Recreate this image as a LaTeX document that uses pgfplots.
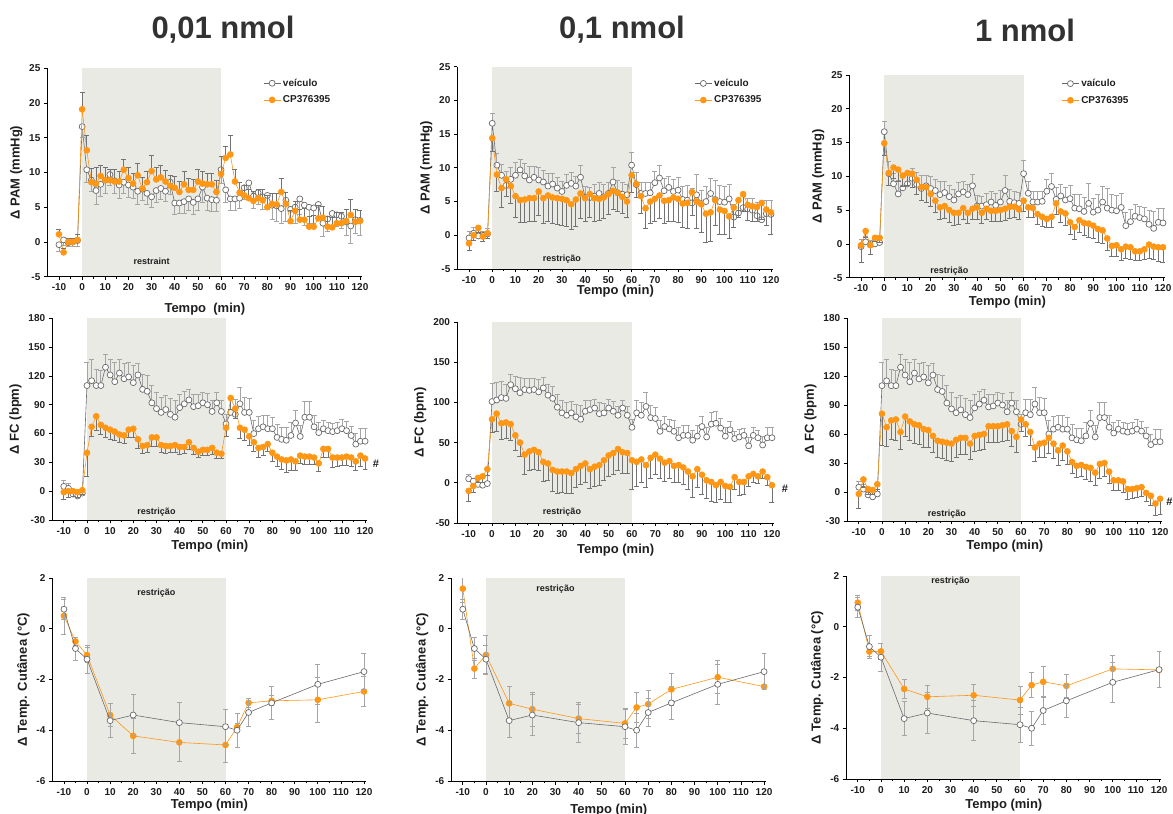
\documentclass[border=0pt]{standalone}
\usepackage{fontspec}
\setmainfont{Liberation Sans}
\usepackage{pgfplots}
\usepackage{pgfplotstable}
\pgfplotsset{compat=1.18}
\definecolor{cpo}{RGB}{255,150,20}
\definecolor{veh}{RGB}{105,105,105}
\definecolor{vebar}{RGB}{165,165,165}
\definecolor{cpbar}{RGB}{115,115,115}
\definecolor{bgshade}{RGB}{234,234,229}
\definecolor{txt}{RGB}{30,30,30}
\definecolor{ttl}{RGB}{50,50,50}

% ---------- Row 1 (PAM) ----------
\pgfplotstableread{
t v e
-10 -0.4 1.0
-8 0.3 0.8
-6 -0.1 0.6
-4 0.0 0.6
-2 0.2 0.8
0 16.6 1.5
2 10.4 1.8
4 8.9 1.6
6 7.4 2.0
8 8.3 1.8
10 8.9 1.9
12 9.7 1.5
14 8.8 1.8
16 8.2 2.0
18 8.6 1.6
20 8.2 1.8
22 7.9 1.7
24 7.3 1.9
26 7.6 1.6
28 7.0 1.6
30 6.5 1.5
32 7.4 1.7
34 7.7 1.6
36 7.3 1.5
38 8.6 1.7
40 5.6 1.6
42 5.6 1.5
44 5.8 1.7
46 6.2 1.6
48 5.7 1.8
50 6.2 1.7
52 7.9 2.2
54 6.3 1.8
56 6.1 1.7
58 6.0 1.6
60 10.4 1.9
62 7.5 1.8
64 6.2 1.6
66 6.2 1.6
68 6.3 1.5
70 7.8 1.7
72 8.5 1.9
74 6.6 1.8
76 7.1 1.7
78 6.5 1.8
80 6.7 1.9
82 5.3 2.0
84 5.2 2.2
86 4.8 2.1
88 6.0 3.0
90 4.7 2.0
92 5.0 2.3
94 6.2 2.3
96 5.3 2.9
98 5.0 2.4
100 4.9 2.3
102 5.4 2.1
104 2.7 1.9
106 3.3 1.8
108 4.1 1.7
110 3.9 1.6
112 3.7 1.7
114 2.9 2.0
116 2.3 2.5
118 3.2 2.0
120 3.1 2.1
}\vehA

\pgfplotstableread{
t v e
-10 1.1 0.7
-8 -1.5 0.6
-6 0.0 0.5
-4 0.0 0.5
-2 0.3 0.8
0 19.1 2.4
2 13.2 2.2
4 8.6 2.0
6 8.4 2.3
8 9.5 1.5
10 8.9 1.8
12 8.9 1.6
14 8.7 1.7
16 8.7 1.5
18 10.4 1.5
20 9.2 1.6
22 8.4 1.5
24 9.6 1.7
26 7.7 1.6
28 8.6 1.5
30 10.2 2.3
32 9.0 1.8
34 9.3 1.7
36 8.7 1.6
38 8.1 1.5
40 7.8 1.6
42 7.2 1.5
44 8.3 1.8
46 7.5 1.6
48 7.5 1.5
50 8.7 1.8
52 8.4 1.7
54 8.3 1.6
56 8.3 1.5
58 7.2 1.6
60 9.8 2.5
62 12.1 1.6
64 12.6 2.7
66 8.7 1.8
68 7.1 1.5
70 6.7 1.4
72 6.3 1.3
74 5.9 1.4
76 6.3 1.3
78 6.0 1.5
80 5.0 1.7
82 5.5 1.5
84 5.4 1.6
86 7.2 2.0
88 5.5 1.6
90 3.0 1.5
92 4.5 1.4
94 3.2 1.5
96 3.2 1.6
98 2.2 1.5
100 2.2 1.6
102 3.4 1.8
104 3.5 1.6
106 2.2 1.5
108 2.1 1.4
110 2.7 1.5
112 2.7 1.6
114 3.0 1.7
116 3.9 2.2
118 2.9 1.8
120 3.0 1.6
}\cpA

\pgfplotstableread{
t v e
-10 -1.2 1.0
-8 0.0 0.8
-6 1.1 0.6
-4 -0.2 0.7
-2 0.3 0.8
0 14.4 2.0
2 9.0 2.5
4 7.0 2.8
6 8.3 2.5
8 7.3 2.6
10 5.8 3.1
12 5.2 3.3
14 5.3 3.4
16 5.5 3.5
18 5.5 3.4
20 6.5 3.6
22 5.5 3.7
24 5.9 3.9
26 5.6 3.8
28 5.5 3.9
30 5.4 4.0
32 5.2 3.9
34 4.6 3.8
36 5.3 4.0
38 6.2 3.7
40 5.5 3.5
42 6.1 3.4
44 5.5 3.5
46 5.4 3.2
48 5.6 3.1
50 6.1 3.0
52 6.6 2.8
54 6.3 2.7
56 5.7 2.5
58 5.0 2.3
60 8.9 2.5
62 7.6 2.0
64 5.8 2.5
66 4.0 3.0
68 5.0 3.2
70 5.4 3.3
72 5.9 3.4
74 5.1 3.3
76 5.2 3.2
78 5.6 3.5
80 5.4 3.5
82 4.7 3.6
84 4.8 3.8
86 6.4 3.5
88 5.0 4.0
90 4.6 4.2
92 3.2 4.2
94 3.4 4.3
96 5.2 3.8
98 3.8 3.6
100 3.6 3.4
102 2.8 3.3
104 4.1 2.9
106 5.2 2.6
108 6.1 2.5
110 4.5 2.3
112 4.3 2.2
114 4.2 2.1
116 4.8 2.5
118 3.8 2.4
120 3.4 3.2
}\cpB

\pgfplotstableread{
t v e
-10 -0.2 2.5
-8 1.9 0.9
-6 -0.2 1.4
-4 0.9 0.6
-2 0.9 0.7
0 14.9 1.8
2 10.5 1.8
4 11.3 1.6
6 11.0 1.7
8 10.1 1.6
10 10.5 1.8
12 10.4 2.0
14 9.5 2.1
16 8.4 2.0
18 8.4 2.2
20 7.4 1.9
22 6.4 1.8
24 5.4 1.7
26 5.6 1.8
28 5.0 1.8
30 4.6 1.8
32 4.6 1.7
34 5.3 1.7
36 4.6 1.6
38 5.2 1.6
40 5.4 1.8
42 4.6 1.5
44 5.2 1.6
46 4.9 1.5
48 4.9 1.5
50 5.0 1.6
52 5.2 1.7
54 5.5 1.7
56 5.5 1.6
58 5.1 1.5
60 6.4 1.6
62 5.4 1.5
64 5.3 1.4
66 4.4 1.5
68 4.0 1.4
70 3.7 1.3
72 4.0 1.5
74 6.0 1.6
76 4.8 1.6
78 4.5 1.7
80 3.2 1.8
82 2.5 1.9
84 3.5 1.8
86 3.1 1.9
88 3.0 2.0
90 2.7 1.9
92 2.2 2.0
94 2.0 1.9
96 0.8 1.8
98 -0.3 1.6
100 -0.2 1.7
102 -0.8 1.6
104 -0.4 1.7
106 -0.5 1.8
108 -1.1 1.3
110 -1.1 1.4
112 -0.8 1.5
114 -0.1 2.0
116 -0.4 1.9
118 -0.5 2.1
120 -0.5 2.3
}\cpC

% ---------- Row 2 (FC) ----------
\pgfplotstableread{
t v e
-10 5 6
-8 3 5
-6 -3 4
-4 -5 3
-2 -2 3
0 110 24
2 115 22
4 110 17
6 110 16
8 129 13
10 121 16
12 114 20
14 123 14
16 117 16
18 119 15
20 113 18
22 121 12
24 106 16
26 104 17
28 92 18
30 86 17
32 82 16
34 85 15
36 80 17
38 77 18
40 87 14
42 91 13
44 95 11
46 88 13
48 89 12
50 92 11
52 90 12
54 83 12
56 92 11
58 83 12
60 70 10
62 82 14
64 80 16
66 91 17
68 82 16
70 82 15
72 60 14
74 65 13
76 67 12
78 65 14
80 65 12
82 56 14
84 54 12
86 53 13
88 58 14
90 71 13
92 57 12
94 77 16
96 77 16
98 67 12
100 61 11
102 65 9
104 63 9
106 62 9
108 63 9
110 65 10
112 63 10
114 58 9
116 49 11
118 52 13
120 52 13
}\vehB

\pgfplotstableread{
t v e
-10 5 5
-8 2 4
-6 -2 3
-4 -3 3
-2 -1 3
0 101 23
2 103 22
4 106 20
6 105 17
8 122 13
10 117 15
12 112 19
14 116 14
16 115 15
18 116 14
20 113 16
22 118 13
24 109 14
26 105 15
28 94 16
30 87 15
32 84 16
34 87 14
36 82 16
38 79 17
40 89 13
42 91 12
44 93 11
46 86 14
48 87 12
50 93 11
52 89 12
54 84 11
56 93 10
58 84 11
60 69 10
62 87 15
64 84 16
66 95 17
68 81 15
70 80 14
72 64 14
74 70 13
76 67 12
78 64 14
80 56 13
82 59 13
84 59 12
86 53 12
88 58 13
90 70 13
92 57 12
94 73 15
96 74 15
98 68 12
100 58 11
102 66 10
104 55 9
106 57 9
108 59 9
110 46 10
112 59 10
114 56 9
116 47 11
118 56 13
120 56 13
}\vehBb

\pgfplotstableread{
t v e
-10 -1 8
-8 0 6
-6 0 5
-4 -1 5
-2 1 4
0 40 25
2 67 10
4 78 15
6 69 10
8 66 10
10 64 10
12 62 9
14 59 8
16 58 8
18 64 8
20 65 9
22 54 9
24 47 8
26 48 8
28 56 9
30 56 9
32 48 8
34 47 8
36 47 7
38 48 8
40 46 8
42 46 7
44 51 7
46 45 7
48 41 6
50 43 6
52 43 6
54 45 7
56 40 6
58 39 5
60 66 9
62 97 12
64 86 10
66 66 11
68 64 11
70 57 9
72 51 10
74 45 10
76 46 9
78 49 8
80 40 9
82 36 10
84 33 10
86 32 12
88 33 11
90 31 9
92 37 8
94 36 8
96 36 8
98 35 7
100 29 8
102 44 9
104 44 9
106 35 10
108 35 9
110 35 8
112 36 9
114 35 9
116 31 9
118 37 11
120 34 11
}\cpD

\pgfplotstableread{
t v e
-10 -10 13
-8 -4 8
-6 6 6
-4 8 7
-2 17 8
0 79 16
2 86 22
4 74 20
6 75 20
8 73 20
10 59 19
12 50 17
14 35 25
16 39 24
18 41 24
20 38 22
22 26 24
24 24 21
26 16 27
28 14 27
30 14 26
32 14 27
34 12 25
36 17 23
38 21 23
40 24 23
42 17 24
44 20 25
46 22 25
48 28 25
50 34 26
52 37 27
54 42 27
56 38 26
58 37 25
60 28 36
62 26 30
64 29 28
66 22 28
68 31 26
70 35 25
72 30 24
74 25 23
76 27 22
78 21 21
80 22 22
82 19 21
84 14 22
86 8 26
88 17 23
90 10 24
92 3 23
94 1 24
96 -3 22
98 1 22
100 -4 20
102 -5 20
104 7 15
106 1 17
108 1 15
110 8 12
112 11 10
114 8 9
116 14 9
118 7 10
120 -3 21
}\cpE

\pgfplotstableread{
t v e
-10 -2 15
-8 13 8
-6 3 5
-4 2 4
-2 8 5
0 81 33
2 67 20
4 74 20
6 75 22
8 62 18
10 78 20
12 73 20
14 70 20
16 69 20
18 65 19
20 64 18
22 58 17
24 53 17
26 52 17
28 51 18
30 50 18
32 54 18
34 56 17
36 56 17
38 50 16
40 58 16
42 59 16
44 60 16
46 68 17
48 68 17
50 68 17
52 69 17
54 70 17
56 63 16
58 57 16
60 75 12
62 70 12
64 62 14
66 46 14
68 50 14
70 51 15
72 56 16
74 50 15
76 43 15
78 48 15
80 42 13
82 31 12
84 27 12
86 28 12
88 26 13
90 25 14
92 20 13
94 29 15
96 30 14
98 21 12
100 12 10
102 12 10
104 11 11
106 3 11
108 3 10
110 4 10
112 5 10
114 -1 9
116 -4 10
118 -12 12
120 -7 16
}\cpF

% ---------- Row 3 (Temp) ----------
\pgfplotstableread{
t v e
-10 0.77 0.40
-5 -0.78 0.45
0 -1.20 0.55
10 -3.62 0.67
20 -3.40 0.80
40 -3.70 0.78
60 -3.86 0.70
65 -4.00 0.68
70 -3.30 0.55
80 -2.92 0.65
100 -2.19 0.80
120 -1.69 0.70
}\vehC

\pgfplotstableread{
t v e
-10 0.51 0.72
-5 -0.50 0.15
0 -1.04 0.30
10 -3.40 0.45
20 -4.22 0.70
40 -4.48 0.75
60 -4.58 0.67
65 -3.88 0.15
70 -2.92 0.18
80 -2.84 0.20
100 -2.80 0.88
120 -2.47 0.60
}\cpG

\pgfplotstableread{
t v e
-10 1.58 0.55
-5 -1.57 0.40
0 -1.03 0.78
10 -2.94 0.68
20 -3.17 0.68
40 -3.54 0.57
60 -3.73 0.60
65 -3.10 0.60
70 -2.97 0.55
80 -2.39 0.65
100 -1.91 0.65
120 -2.28 0.10
}\cpH

\pgfplotstableread{
t v e
-10 0.95 0.30
-5 -0.98 0.20
0 -0.97 0.30
10 -2.45 0.38
20 -2.76 0.45
40 -2.70 0.42
60 -2.89 0.55
65 -2.30 0.50
70 -2.17 0.60
80 -2.33 0.45
100 -1.66 0.52
120 -1.70 0.05
}\cpI

\pgfplotsset{
  panel/.style={
    scale only axis, anchor=south west,
    axis lines=left, axis line style={-, line width=0.9pt, black},
    xmin=-15, xmax=121,
    xtick={-10,0,...,120},
    minor x tick num=1,
    tick align=outside,
    major tick length=3.5pt, minor tick length=2pt,
    every tick/.style={black, line width=0.8pt},
    tick label style={font=\fontsize{10}{12}\selectfont\bfseries, text=txt},
    /pgf/number format/assume math mode=true,
    label style={font=\fontsize{13}{15}\selectfont\bfseries, text=txt},
    xlabel style={at={(axis description cs:0.5,0)}, anchor=center},
    axis on top,
    clip mode=individual,
    legend cell align=left,
    legend style={draw=none, fill=none, font=\fontsize{10}{12}\selectfont\bfseries, text=txt, row sep=4pt, inner sep=0pt, anchor=north west},
  },
  vehplot/.style={color=veh, line width=0.6pt, mark=*, mark size=3pt, mark options={fill=white, draw=veh, line width=0.7pt}},
  cpplot/.style={color=cpo, line width=0.6pt, mark=*, mark size=3pt, mark options={fill=cpo, draw=cpo}},
  eb/.style 2 args={error bars/.cd, y dir=#1, y explicit,
     error bar style={#2, line width=0.8pt},
     error mark options={rotate=90, #2, mark size=2.5pt, line width=0.8pt}},
}
\newcommand{\rlab}[3]{\node[font=\fontsize{9}{10}\selectfont\bfseries, text=txt] at (axis cs:#1,#2) {#3};}

\begin{document}
\begin{tikzpicture}
\path[use as bounding box] (0pt,0pt) rectangle (1173pt,814pt);

\node[font=\fontsize{31}{34}\selectfont\bfseries, text=ttl] at (223pt,784pt) {0,01 nmol};
\node[font=\fontsize{31}{34}\selectfont\bfseries, text=ttl] at (622pt,784pt) {0,1 nmol};
\node[font=\fontsize{31}{34}\selectfont\bfseries, text=ttl] at (1025pt,784pt) {1 nmol};

% ===== Row 1 =====
\begin{axis}[panel, at={(47.4pt,537.3pt)}, width=314.9pt, height=208.4pt,
  ymin=-5, ymax=25, ytick={-5,0,...,25},
  ylabel={Δ PAM (mmHg)}, xlabel={Tempo\ \ (min)}, xlabel style={yshift=-32pt},
  legend style={at={(axis description cs:0.685,0.96)}}]
\fill[bgshade] (axis cs:0,-5) rectangle (axis cs:60,25);
\addplot[vehplot, eb={minus}{vebar}] table[x=t,y=v,y error=e] {\vehA};
\addlegendentry{veículo}
\addplot[cpplot, eb={plus}{cpbar}] table[x=t,y=v,y error=e] {\cpA};
\addlegendentry{CP376395}
\rlab{30}{-2.8}{restraint}
\end{axis}

\begin{axis}[panel, at={(457.4pt,545pt)}, width=315.9pt, height=202.3pt,
  ymin=-5, ymax=25, ytick={-5,0,...,25},
  ylabel={Δ PAM (mmHg)}, xlabel={Tempo (min)}, xlabel style={yshift=-22pt},
  legend style={at={(axis description cs:0.75,0.95)}}]
\fill[bgshade] (axis cs:0,-5) rectangle (axis cs:60,25);
\addplot[vehplot, eb={plus}{vebar}] table[x=t,y=v,y error=e] {\vehA};
\addlegendentry{veículo}
\addplot[cpplot, eb={minus}{cpbar}] table[x=t,y=v,y error=e] {\cpB};
\addlegendentry{CP376395}
\rlab{30}{-3.5}{restrição}
\end{axis}

\begin{axis}[panel, at={(849.4pt,536.3pt)}, width=315.9pt, height=202.7pt,
  ymin=-5, ymax=25, ytick={-5,0,...,25},
  ylabel={Δ PAM (mmHg)}, xlabel={Tempo (min)}, xlabel style={yshift=-24pt},
  legend style={at={(axis description cs:0.671,0.99)}}]
\fill[bgshade] (axis cs:0,-5) rectangle (axis cs:60,25);
\addplot[vehplot, eb={plus}{vebar}] table[x=t,y=v,y error=e] {\vehA};
\addlegendentry{vaículo}
\addplot[cpplot, eb={minus}{cpbar}] table[x=t,y=v,y error=e] {\cpC};
\addlegendentry{CP376395}
\rlab{28}{-4}{restrição}
\end{axis}

% ===== Row 2 =====
\begin{axis}[panel, at={(52.2pt,294pt)}, width=315.2pt, height=201.7pt,
  ymin=-30, ymax=180, ytick={-30,0,...,180},
  ylabel={Δ FC (bpm)}, xlabel={Tempo (min)}, xlabel style={yshift=-26pt}]
\fill[bgshade] (axis cs:0,-30) rectangle (axis cs:60,180);
\addplot[vehplot, eb={plus}{vebar}] table[x=t,y=v,y error=e] {\vehB};
\addplot[cpplot, eb={minus}{cpbar}] table[x=t,y=v,y error=e] {\cpD};
\rlab{30}{-22}{restrição}
\node[font=\fontsize{11}{12}\selectfont\bfseries, text=txt] at (axis cs:124.7,29) {\#};
\end{axis}

\begin{axis}[panel, at={(457pt,291pt)}, width=317.3pt, height=201pt,
  ymin=-50, ymax=200, ytick={-50,0,...,200},
  ylabel={Δ FC (bpm)}, xlabel={Tempo (min)}, xlabel style={yshift=-27pt}]
\fill[bgshade] (axis cs:0,-50) rectangle (axis cs:60,200);
\addplot[vehplot, eb={plus}{vebar}] table[x=t,y=v,y error=e] {\vehBb};
\addplot[cpplot, eb={minus}{cpbar}] table[x=t,y=v,y error=e] {\cpE};
\rlab{30}{-37}{restrição}
\node[font=\fontsize{11}{12}\selectfont\bfseries, text=txt] at (axis cs:125.6,-8) {\#};
\end{axis}

\begin{axis}[panel, at={(847.2pt,293pt)}, width=315.2pt, height=203pt,
  ymin=-30, ymax=180, ytick={-30,0,...,180},
  ylabel={Δ FC (bpm)}, xlabel={Tempo (min)}, xlabel style={yshift=-25pt}]
\fill[bgshade] (axis cs:0,-30) rectangle (axis cs:60,180);
\addplot[vehplot, eb={plus}{vebar}] table[x=t,y=v,y error=e] {\vehB};
\addplot[cpplot, eb={minus}{cpbar}] table[x=t,y=v,y error=e] {\cpF};
\rlab{28}{-23}{restrição}
\node[font=\fontsize{11}{12}\selectfont\bfseries, text=txt] at (axis cs:124,-10) {\#};
\end{axis}

% ===== Row 3 =====
\begin{axis}[panel, at={(52.4pt,33pt)}, width=313.9pt, height=203pt,
  ymin=-6, ymax=2, ytick={-6,-4,...,2},
  ylabel={Δ Temp. Cutânea (°C)}, xlabel={Tempo (min)}, xlabel style={yshift=-24pt}]
\fill[bgshade] (axis cs:0,-6) rectangle (axis cs:60,2);
\addplot[cpplot, eb={both}{vebar}] table[x=t,y=v,y error=e] {\cpG};
\addplot[vehplot, eb={both}{vebar}] table[x=t,y=v,y error=e] {\vehC};
\rlab{30}{1.42}{restrição}
\end{axis}

\begin{axis}[panel, at={(451.2pt,33pt)}, width=315.2pt, height=203pt,
  ymin=-6, ymax=2, ytick={-6,-4,...,2},
  ylabel={Δ Temp. Cutânea (°C)}, xlabel={Tempo (min)}, xlabel style={yshift=-29pt}]
\fill[bgshade] (axis cs:0,-6) rectangle (axis cs:60,2);
\addplot[cpplot, eb={both}{vebar}] table[x=t,y=v,y error=e] {\cpH};
\addplot[vehplot, eb={both}{vebar}] table[x=t,y=v,y error=e] {\vehC};
\rlab{30}{1.57}{restrição}
\end{axis}

\begin{axis}[panel, at={(846.2pt,35pt)}, width=315.2pt, height=203pt,
  ymin=-6, ymax=2, ytick={-6,-4,...,2},
  ylabel={Δ Temp. Cutânea (°C)}, xlabel={Tempo (min)}, xlabel style={yshift=-26pt}]
\fill[bgshade] (axis cs:0,-6) rectangle (axis cs:60,2);
\addplot[cpplot, eb={both}{vebar}] table[x=t,y=v,y error=e] {\cpI};
\addplot[vehplot, eb={both}{vebar}] table[x=t,y=v,y error=e] {\vehC};
\rlab{30}{1.8}{restrição}
\end{axis}

\end{tikzpicture}
\end{document}
